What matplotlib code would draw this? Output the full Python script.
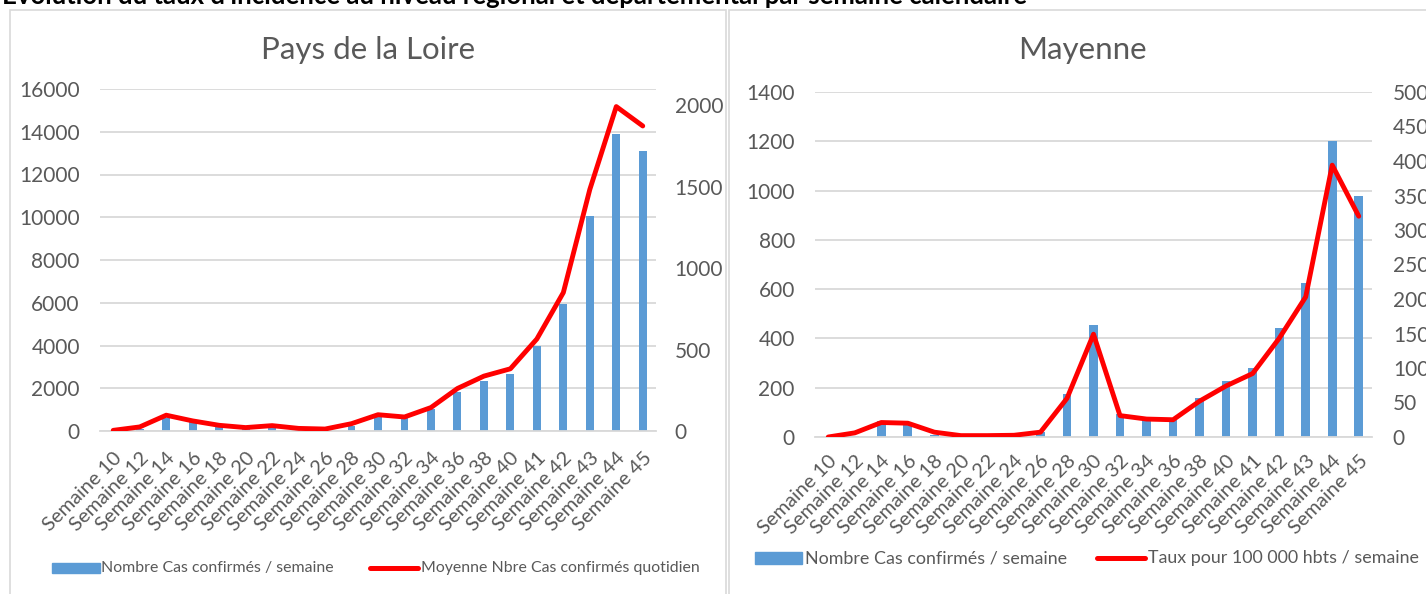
import matplotlib
matplotlib.use("Agg")
import matplotlib.pyplot as plt
from matplotlib.patches import Rectangle
from matplotlib.lines import Line2D
import numpy as np

plt.rcParams['font.family'] = ['Lato', 'DejaVu Sans']

weeks = ["Semaine 10", "Semaine 12", "Semaine 14", "Semaine 16", "Semaine 18", "Semaine 20",
         "Semaine 22", "Semaine 24", "Semaine 26", "Semaine 28", "Semaine 30", "Semaine 32",
         "Semaine 34", "Semaine 36", "Semaine 38", "Semaine 40", "Semaine 41", "Semaine 42",
         "Semaine 43", "Semaine 44", "Semaine 45"]

pdl_cases = [20, 100, 600, 450, 250, 150, 250, 100, 80, 250, 650, 600, 1050, 1830, 2330,
             2660, 3990, 5940, 10080, 13900, 13100]
pdl_daily = [4, 25, 97, 62, 35, 21, 33, 16, 12, 45, 100, 86, 144, 261, 337, 382, 565, 850,
             1483, 1992, 1873]

may_cases = [0, 5, 63, 57, 10, 2, 3, 4, 20, 175, 455, 93, 70, 68, 158, 228, 282, 444, 624,
             1200, 977]
may_rate = [0, 6, 21, 20, 7, 2, 2, 2.5, 7, 56, 149, 31, 26, 25, 52, 74, 92, 143, 203, 394, 320]

W, H = 1426, 594
fig = plt.figure(figsize=(W / 100, H / 100), dpi=100)

GRAY = "#595959"
GRID = "#D9D9D9"
BLUE = "#5B9BD5"
RED = "#FF0000"


def px_axes(x0, y0, x1, y1):
    return fig.add_axes([x0 / W, 1 - y1 / H, (x1 - x0) / W, (y1 - y0) / H])


# chart frames
fig.patches.append(Rectangle((10 / W, -0.1), (726 - 10) / W, 1.1 - 10 / H,
                             transform=fig.transFigure, fill=False, ec=GRID, lw=1.2))
fig.patches.append(Rectangle((729 / W, -0.1), (1440 - 729) / W, 1.1 - 10 / H,
                             transform=fig.transFigure, fill=False, ec=GRID, lw=1.2))

# page heading (partially cut)
fig.text(2 / W, 1 - 4 / H,
         "Evolution du taux d'incidence au niveau régional et départemental par semaine calendaire",
         ha='left', va='baseline', fontsize=18.5, fontweight='bold', color='black')


def make_chart(x0, y0, x1, y1, bars, line, ymax, ystep, y2max, y2ticks, title, tx, barw,
               fs, lpad, rpad, xpad):
    ax = px_axes(x0, y0, x1, y1)
    x = np.arange(len(weeks))
    ax.bar(x, bars, width=barw, color=BLUE, zorder=2)
    ax.set_xlim(-0.5, len(weeks) - 0.5)
    ax.set_ylim(0, ymax)
    ax.set_yticks(np.arange(0, ymax + 1, ystep))
    ax.yaxis.grid(True, color=GRID, lw=1.3, zorder=0)
    ax.set_axisbelow(True)
    for s in ax.spines.values():
        s.set_visible(False)
    ax.spines['bottom'].set_visible(True)
    ax.spines['bottom'].set_color(GRID)
    ax.spines['bottom'].set_linewidth(1.3)
    ax.tick_params(axis='both', length=0, colors=GRAY, labelsize=fs)
    ax.tick_params(axis='y', pad=lpad)
    ax.set_xticks(x)
    ax.set_xticklabels(weeks, rotation=45, ha='right', va='top', rotation_mode='anchor')
    ax.tick_params(axis='x', pad=xpad, labelsize=14.5)
    fig.text(tx / W, 1 - 50 / H, title, ha='center', va='center', fontsize=22.5, color=GRAY)

    ax2 = ax.twinx()
    ax2.plot(x, line, color=RED, lw=3.5, solid_capstyle='round', solid_joinstyle='round', zorder=3)
    ax2.set_ylim(0, y2max)
    ax2.set_yticks(y2ticks)
    for s in ax2.spines.values():
        s.set_visible(False)
    ax2.tick_params(axis='y', length=0, colors=GRAY, labelsize=fs, pad=rpad)
    ax2.set_xlim(-0.5, len(weeks) - 0.5)
    return ax, ax2


make_chart(100, 89, 656, 431, pdl_cases, pdl_daily, 16000, 2000, 2100,
           [0, 500, 1000, 1500, 2000], "Pays de la Loire", 368, 0.3, 15, 14.5, 13.5, 13)
make_chart(815, 92, 1372, 437, may_cases, may_rate, 1400, 200, 500,
           list(range(0, 501, 50)), "Mayenne", 1082, 0.33, 15, 14.5, 15, 11)


def legend_item_patch(x0, x1, yc, h):
    fig.patches.append(Rectangle((x0 / W, 1 - (yc + h / 2) / H), (x1 - x0) / W, h / H,
                                 transform=fig.transFigure, color=BLUE))


def legend_item_line(x0, x1, yc):
    fig.lines.append(Line2D([x0 / W, x1 / W], [1 - yc / H, 1 - yc / H],
                            transform=fig.transFigure, color=RED, lw=3.6,
                            solid_capstyle='round'))


# left legend
legend_item_patch(52, 100, 568, 10)
fig.text(101 / W, 1 - 568 / H, "Nombre Cas confirmés / semaine", ha='left', va='center',
         fontsize=11.4, color=GRAY)
legend_item_line(370, 418, 568)
fig.text(421 / W, 1 - 568 / H, "Moyenne Nbre Cas confirmés quotidien", ha='left', va='center',
         fontsize=11.4, color=GRAY)

# right legend
legend_item_patch(755, 802, 558, 12)
fig.text(805 / W, 1 - 558 / H, "Nombre Cas confirmés / semaine", ha='left', va='center',
         fontsize=12.9, color=GRAY)
legend_item_line(1097, 1145, 558)
fig.text(1148 / W, 1 - 558 / H, "Taux pour 100 000 hbts / semaine", ha='left', va='center',
         fontsize=12.9, color=GRAY)

fig.savefig("out.png", dpi=100)
